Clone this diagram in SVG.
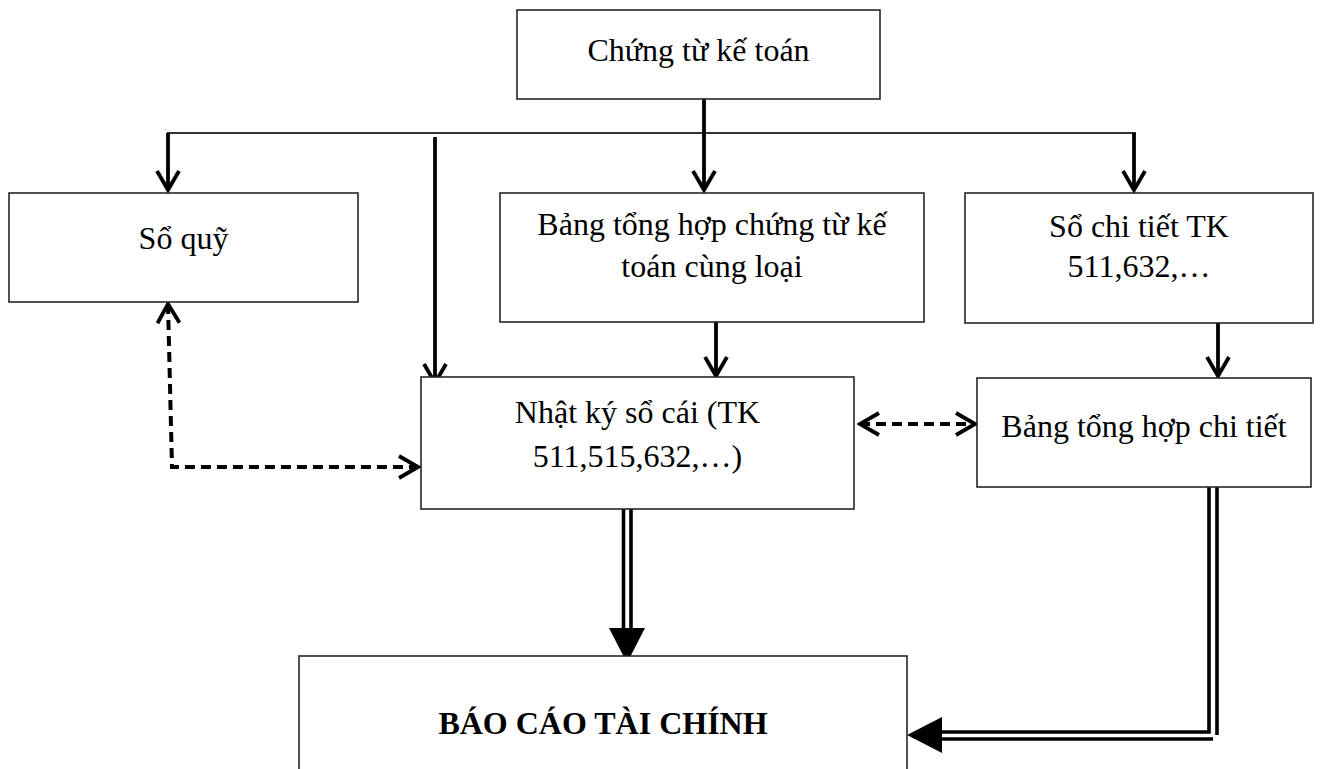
<svg xmlns="http://www.w3.org/2000/svg" width="1320" height="769" viewBox="0 0 1320 769">
<style>
.box{fill:#fff;stroke:#262626;stroke-width:1.6}
.t{font-family:"Liberation Serif","Times New Roman",serif;font-size:32px;fill:#000;text-anchor:middle}
.b{font-weight:bold}
.thin{stroke:#333;stroke-width:2;fill:none}
.arr{stroke:#000;stroke-width:3.8;fill:none;marker-end:url(#open)}
.dash{stroke:#000;stroke-width:4;fill:none;stroke-dasharray:10 6}
.dbl{stroke:#000;stroke-width:3.6;fill:none}
</style>
<defs>
<marker id="open" markerUnits="userSpaceOnUse" viewBox="0 0 24 26" markerWidth="24" markerHeight="26" refX="21" refY="13" orient="auto-start-reverse">
<path d="M2,2 L21,13 L2,24" fill="none" stroke="#000" stroke-width="3.8" stroke-linejoin="miter"/>
</marker>
</defs>
<rect width="1320" height="769" fill="#fff"/>

<g id="connectors">
<line class="thin" x1="167" y1="133" x2="1136" y2="133"/>
<line class="arr" x1="704" y1="99" x2="704" y2="190"/>
<line class="arr" x1="168" y1="133" x2="168" y2="190"/>
<line class="arr" x1="435" y1="137" x2="435" y2="383"/>
<line class="arr" x1="1134" y1="133" x2="1134" y2="190"/>
<line class="arr" x1="716" y1="322" x2="716" y2="376"/>
<line class="arr" x1="1218" y1="323" x2="1218" y2="376"/>
<path class="dash" d="M168,304 L172,467 L418,467" marker-start="url(#open)" marker-end="url(#open)"/>
<line class="dash" x1="860" y1="424" x2="975" y2="424" marker-start="url(#open)" marker-end="url(#open)"/>
<line class="dbl" x1="623.5" y1="509" x2="623.5" y2="630"/>
<line class="dbl" x1="631" y1="509" x2="631" y2="630"/>
<polygon points="609,628 645,628 627,663" fill="#000"/>
<path class="dbl" d="M1209,487 L1209,732 L940,732"/>
<path class="dbl" d="M1217,487 L1217,735 M1213,739 L940,739"/>
<polygon points="942,717 942,753 907,735" fill="#000"/>
</g>

<g id="chung-tu-ke-toan">
<rect class="box" x="517" y="10" width="363" height="89"/>
<text class="t" x="698.5" y="61">Chứng từ kế toán</text>
</g>
<g id="so-quy">
<rect class="box" x="9" y="193" width="349" height="109"/>
<text class="t" x="183.5" y="249">Sổ quỹ</text>
</g>
<g id="bang-tong-hop-chung-tu">
<rect class="box" x="500" y="193" width="424" height="129"/>
<text class="t" x="712" y="235">Bảng tổng hợp chứng từ kế</text>
<text class="t" x="712" y="277">toán cùng loại</text>
</g>
<g id="so-chi-tiet">
<rect class="box" x="965" y="193" width="348" height="130"/>
<text class="t" x="1139" y="237">Sổ chi tiết TK</text>
<text class="t" x="1139" y="277">511,632,…</text>
</g>
<g id="nhat-ky-so-cai">
<rect class="box" x="421" y="377" width="433" height="132"/>
<text class="t" x="637.5" y="423">Nhật ký sổ cái (TK</text>
<text class="t" x="637.5" y="467">511,515,632,…)</text>
</g>
<g id="bang-tong-hop-chi-tiet">
<rect class="box" x="977" y="378" width="334" height="109"/>
<text class="t" x="1144" y="437">Bảng tổng hợp chi tiết</text>
</g>
<g id="bao-cao-tai-chinh">
<rect class="box" x="299" y="656" width="608" height="130"/>
<text class="t b" x="603" y="734">BÁO CÁO TÀI CHÍNH</text>
</g>
</svg>
